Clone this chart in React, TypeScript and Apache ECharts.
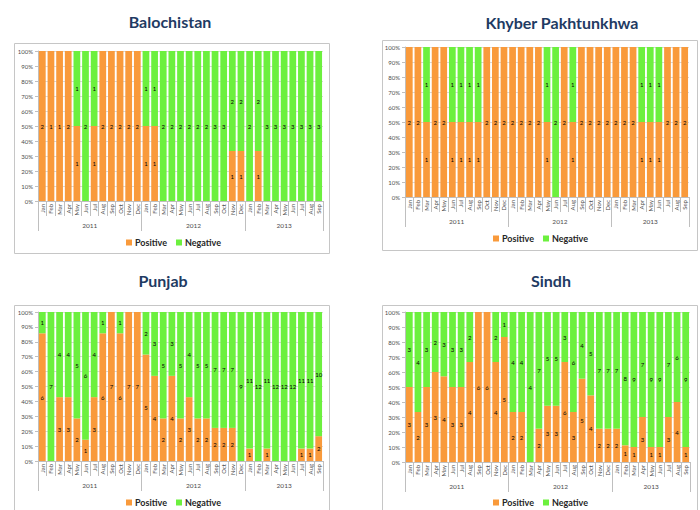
import React, { useEffect, useRef } from 'react';
import * as echarts from 'echarts';

const months = ['Jan', 'Feb', 'Mar', 'Apr', 'May', 'Jun', 'Jul', 'Aug', 'Sep', 'Oct', 'Nov', 'Dec'];
const categories = [...months, ...months, ...months.slice(0, 9)];
const years = ['2011', '2012', '2013'];
const yearBounds = [0, 12, 24, 33];
const yTicks = ['0%', '10%', '20%', '30%', '40%', '50%', '60%', '70%', '80%', '90%', '100%'];

const balochistanPositive = [2, 1, 1, 2, 1, 0, 1, 2, 2, 2, 2, 2, 1, 1, 0, 0, 0, 0, 0, 0, 0, 0, 1, 1, 0, 1, 0, 0, 0, 0, 0, 0, 0];
const balochistanNegative = [0, 0, 0, 0, 1, 2, 1, 0, 0, 0, 0, 0, 1, 1, 2, 2, 2, 2, 2, 2, 3, 3, 2, 2, 2, 2, 3, 3, 3, 3, 3, 3, 3];
const kpPositive = [2, 2, 1, 2, 2, 1, 1, 1, 1, 2, 2, 2, 2, 2, 2, 2, 1, 0, 2, 1, 2, 2, 2, 2, 2, 2, 2, 1, 1, 1, 2, 2, 2];
const kpNegative = [0, 0, 1, 0, 0, 1, 1, 1, 1, 0, 0, 0, 0, 0, 0, 0, 1, 2, 0, 1, 0, 0, 0, 0, 0, 0, 0, 1, 1, 1, 0, 0, 0];
const punjabPositive = [6, 0, 3, 3, 2, 1, 3, 6, 7, 6, 7, 7, 5, 4, 2, 4, 2, 3, 2, 2, 2, 2, 2, 0, 1, 0, 1, 0, 0, 0, 1, 1, 2];
const punjabNegative = [1, 7, 4, 4, 5, 6, 4, 1, 0, 1, 0, 0, 2, 3, 5, 3, 5, 4, 5, 5, 7, 7, 7, 9, 11, 12, 11, 12, 12, 12, 11, 11, 10];
const sindhPositive = [3, 2, 3, 3, 4, 3, 3, 4, 6, 6, 4, 5, 2, 2, 0, 2, 3, 3, 6, 3, 5, 4, 2, 2, 2, 1, 1, 3, 1, 1, 3, 4, 1];
const sindhNegative = [3, 4, 3, 2, 3, 3, 3, 2, 0, 0, 2, 1, 4, 4, 4, 7, 5, 5, 3, 6, 4, 5, 7, 7, 7, 8, 9, 7, 9, 9, 7, 6, 9];

const panelData = [
  { title: 'Balochistan', pos: balochistanPositive, neg: balochistanNegative },
  { title: 'Khyber Pakhtunkhwa', pos: kpPositive, neg: kpNegative },
  { title: 'Punjab', pos: punjabPositive, neg: punjabNegative },
  { title: 'Sindh', pos: sindhPositive, neg: sindhNegative },
];

const layouts = [
  { grid: { left: 38, top: 51, width: 285, height: 150 }, titleX: 170, titleY: 21, frame: { x: 14.5, y: 43.5, w: 315, h: 210 }, legend: { left: 126, top: 238 } },
  { grid: { left: 405, top: 47, width: 284, height: 150 }, titleX: 562, titleY: 22, frame: { x: 382.5, y: 40.5, w: 315, h: 210 }, legend: { left: 493, top: 234 } },
  { grid: { left: 38, top: 312, width: 285, height: 149 }, titleX: 163, titleY: 280, frame: { x: 14.5, y: 305.5, w: 315, h: 230 }, legend: { left: 126, top: 498 } },
  { grid: { left: 405, top: 312, width: 285, height: 150 }, titleX: 551, titleY: 280, frame: { x: 382.5, y: 305.5, w: 315, h: 230 }, legend: { left: 493, top: 498 } },
];

const ORANGE = '#F99A3B';
const GREEN = '#6CF03E';
const FONT = 'Lato, "Open Sans", sans-serif';

export default function App() {
  const ref = useRef<HTMLDivElement>(null);
  useEffect(() => {
    if (!ref.current) return;
    const chart = echarts.init(ref.current, null, { renderer: 'svg' });
    const grids: any[] = [];
    const xAxes: any[] = [];
    const yAxes: any[] = [];
    const series: any[] = [];
    const legends: any[] = [];
    const graphics: any[] = [];
    const yearMids = years.map((_, i) => (yearBounds[i] + yearBounds[i + 1]) / 2);

    panelData.forEach((p, i) => {
      const L = layouts[i];
      grids.push({ ...L.grid, containLabel: false });
      xAxes.push({
        type: 'category',
        gridIndex: i,
        position: 'bottom',
        data: categories,
        axisLine: { show: true, lineStyle: { color: '#BFBFBF' } },
        axisTick: { show: true, interval: 0, length: 15, lineStyle: { color: '#BFBFBF' } },
        axisLabel: { interval: 0, rotate: 90, fontSize: 6, color: '#4D4D4D', margin: 3, fontFamily: FONT },
        splitLine: { show: false },
      });
      xAxes.push({
        type: 'value',
        gridIndex: i,
        position: 'bottom',
        min: 0,
        max: 33,
        axisLine: { show: false },
        splitLine: { show: false },
        axisTick: { show: true, customValues: yearBounds, length: 30, lineStyle: { color: '#BFBFBF' } },
        axisLabel: {
          show: true,
          customValues: yearMids,
          formatter: (v: number) => years[yearMids.indexOf(v)] ?? '',
          margin: 21,
          fontSize: 6.5,
          color: '#4D4D4D',
          fontFamily: FONT,
        },
      });
      yAxes.push({
        type: 'value',
        gridIndex: i,
        min: 0,
        max: 100,
        interval: 10,
        axisLine: { show: true, lineStyle: { color: '#BFBFBF' } },
        axisTick: { show: true, length: 3, lineStyle: { color: '#BFBFBF' } },
        axisLabel: { formatter: (v: number) => yTicks[Math.round(v / 10)], fontSize: 6, color: '#4D4D4D', margin: 5, fontFamily: FONT },
        splitLine: { show: true, lineStyle: { color: '#D9D9D9', width: 1 } },
      });
      const totals = p.pos.map((v, k) => v + p.neg[k]);
      const mk = (name: string, counts: number[], color: string) => ({
        name,
        type: 'bar',
        xAxisIndex: i * 2,
        yAxisIndex: i,
        stack: 'panel' + i,
        barCategoryGap: '22%',
        itemStyle: { color },
        label: {
          show: true,
          position: 'inside',
          fontSize: 6,
          color: '#000',
          fontFamily: FONT,
          formatter: (pr: any) => (counts[pr.dataIndex] ? String(counts[pr.dataIndex]) : ''),
        },
        data: counts.map((c, k) => (totals[k] ? (c / totals[k]) * 100 : 0)),
      });
      series.push(mk('Positive', p.pos, ORANGE));
      series.push(mk('Negative', p.neg, GREEN));
      legends.push({
        data: ['Positive', 'Negative'],
        left: L.legend.left,
        top: L.legend.top,
        padding: 0,
        icon: 'rect',
        itemWidth: 6,
        itemHeight: 6,
        itemGap: 9,
        selectedMode: false,
        textStyle: { fontSize: 9, fontWeight: 'bold', color: '#262626', fontFamily: FONT, padding: [0, 0, 0, -2] },
      });
      graphics.push({
        type: 'rect',
        shape: { x: L.frame.x, y: L.frame.y, width: L.frame.w, height: L.frame.h },
        style: { fill: 'none', stroke: '#C6C6C6', lineWidth: 1 },
        z: -1,
      });
      graphics.push({
        type: 'text',
        x: L.titleX,
        y: L.titleY,
        style: { text: p.title, fontSize: 16, fontWeight: 'bold', fill: '#1F3B63', fontFamily: FONT, align: 'center', verticalAlign: 'middle' },
      });
    });

    chart.setOption({
      animation: false,
      backgroundColor: '#fff',
      grid: grids,
      xAxis: xAxes,
      yAxis: yAxes,
      series,
      legend: legends,
      graphic: graphics,
    });
    return () => chart.dispose();
  }, []);
  return <div ref={ref} style={{ position: 'absolute', left: 0, top: 0, width: 700, height: 510 }} />;
}
